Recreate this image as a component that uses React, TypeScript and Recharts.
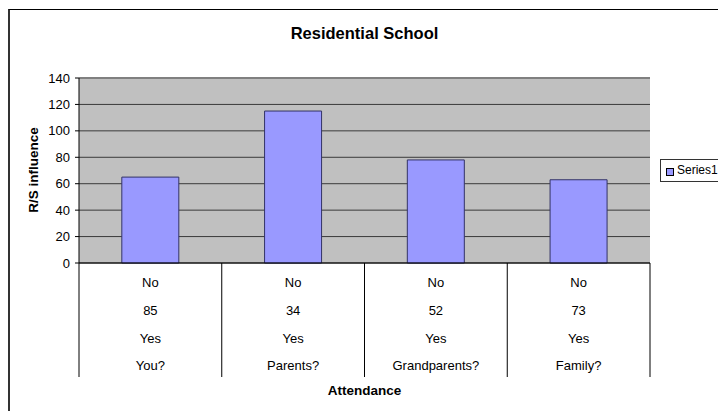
import { BarChart, Bar, XAxis, YAxis, CartesianGrid, ReferenceLine } from 'recharts';

const categories = ['You?', 'Parents?', 'Grandparents?', 'Family?'];
const influence = [65, 115, 78, 63];
const noLabels = ['No', 'No', 'No', 'No'];
const counts = ['85', '34', '52', '73'];
const yesLabels = ['Yes', 'Yes', 'Yes', 'Yes'];
const yTicks = [0, 20, 40, 60, 80, 100, 120, 140];

const data = categories.map((name, i) => ({
  name,
  value: influence[i],
  no: noLabels[i],
  count: counts[i],
  yes: yesLabels[i],
}));

const FONT = '"Liberation Sans", Arial, sans-serif';

// x axis drawn like the Excel data-table: four text rows and cell dividers
const TableTick = (props: any) => {
  const { x, y, payload, index } = props;
  const half = payload.offset ?? 71.3;
  const row = data[index] || data[0];
  const rows = [row.no, row.count, row.yes, row.name];
  const bottom = y + 114;
  return (
    <g>
      <line x1={x - half} y1={y} x2={x - half} y2={bottom} stroke="#000" />
      {index === data.length - 1 && (
        <line x1={x + half} y1={y} x2={x + half} y2={bottom} stroke="#000" />
      )}
      {rows.map((t, i) => (
        <text
          key={i}
          x={x}
          y={y + 24 + i * 27.8}
          textAnchor="middle"
          fontSize={13}
          fontFamily={FONT}
          fill="#000"
        >
          {t}
        </text>
      ))}
    </g>
  );
};

const App = () => {
  return (
    <div style={{ position: 'absolute', left: 0, top: 0, width: 718, height: 411, overflow: 'hidden', background: '#fff', fontFamily: FONT }}>
      {/* chart frame, runs off the right and bottom edges like the original */}
      <div style={{ position: 'absolute', left: 8, top: 9, width: 760, height: 440, borderTop: '1.5px solid #000', borderLeft: '2px solid #333' }} />
      <div style={{ position: 'absolute', left: 0, width: 729, top: 24, textAlign: 'center', fontWeight: 'bold', fontSize: 16.5 }}>
        Residential School
      </div>

      <div style={{ position: 'absolute', left: 0, top: 0 }}>
        <BarChart
          width={718}
          height={411}
          data={data}
          margin={{ top: 78, right: 68, left: 0, bottom: 0 }}
          barCategoryGap="30%"
        >
          <CartesianGrid vertical={false} fill="#C0C0C0" stroke="#3a3a3a" />
          <XAxis
            dataKey="name"
            height={148}
            interval={0}
            tickSize={0}
            tickMargin={0}
            tickLine={false}
            axisLine={{ stroke: '#000' }}
            tick={<TableTick />}
            label={{
              value: 'Attendance',
              position: 'insideBottom',
              offset: 16,
              fontWeight: 'bold',
              fontSize: 13.5,
              fontFamily: FONT,
              fill: '#000',
            }}
          />
          <YAxis
            width={79}
            domain={[0, 140]}
            ticks={yTicks}
            interval={0}
            tickSize={4}
            tickMargin={5}
            axisLine={{ stroke: '#000' }}
            tickLine={{ stroke: '#000' }}
            tick={{ fill: '#000', fontSize: 13, fontFamily: FONT }}
            label={{
              content: () => (
                <text
                  x={38}
                  y={170}
                  transform="rotate(-90 38 170)"
                  textAnchor="middle"
                  fontWeight="bold"
                  fontSize={13.5}
                  fontFamily={FONT}
                  fill="#000"
                >
                  R/S influence
                </text>
              ),
            }}
          />
          <YAxis
            yAxisId="frame"
            orientation="right"
            width={0}
            domain={[0, 140]}
            tick={false}
            tickLine={false}
            axisLine={{ stroke: '#808080', strokeWidth: 1.5 }}
          />
          <ReferenceLine y={140} stroke="#808080" strokeWidth={2} />
          <Bar
            dataKey="value"
            name="Series1"
            fill="#9999FF"
            stroke="#333366"
            strokeWidth={1}
            isAnimationActive={false}
          />
        </BarChart>
      </div>

      {/* legend box, running into the right edge as in the source image */}
      <div style={{ position: 'absolute', left: 660, top: 159, width: 80, height: 21, border: '1px solid #333', background: '#fff' }}>
        <div style={{ position: 'absolute', left: 5, top: 8, width: 6, height: 6, border: '1px solid #000', background: '#9999FF' }} />
        <div style={{ position: 'absolute', left: 16, top: 3, fontSize: 12, lineHeight: '15px', whiteSpace: 'nowrap' }}>Series1</div>
      </div>
    </div>
  );
};

export default App;
